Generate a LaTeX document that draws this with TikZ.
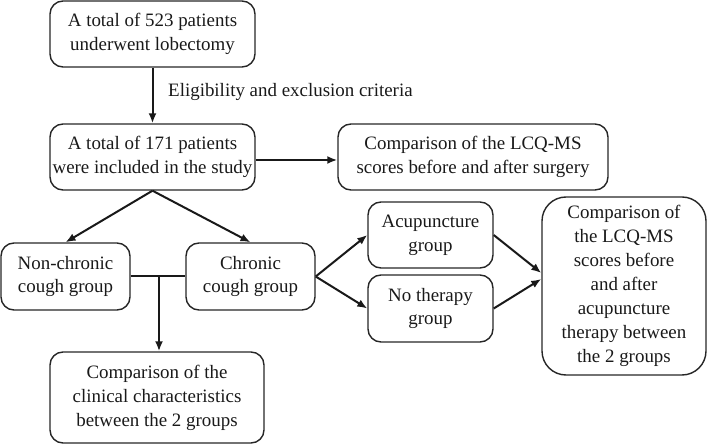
\documentclass[tikz,border=0pt]{standalone}
\usepackage{fontspec}
\setmainfont{Liberation Serif}
\usetikzlibrary{arrows.meta,calc}
\begin{document}
\begin{tikzpicture}[x=1bp,y=-1bp,
  box/.style={draw=black!85,line width=1.4bp,rounded corners=13bp,align=center,
    font=\fontsize{19}{24}\selectfont,inner sep=0pt,text=black!90},
  conn/.style={draw=black!90,line width=2bp},
  arr/.style={conn,-{Latex[length=10bp,width=8bp]}}]
\useasboundingbox (0,0) rectangle (709,444);
\node[box,minimum width=205bp,minimum height=66bp] (b1) at (152.5,34) {A total of 523 patients\\underwent lobectomy};
\node[box,minimum width=205bp,minimum height=66bp] (b2) at (152.5,157) {A total of 171 patients\\were included in the study};
\node[box,minimum width=270bp,minimum height=66bp] (b3) at (473,157) {Comparison of the LCQ-MS\\scores before and after surgery};
\node[box,minimum width=129bp,minimum height=67bp] (nc) at (65.5,276.5) {Non-chronic\\cough group};
\node[box,minimum width=129bp,minimum height=67bp] (ch) at (250.5,276.5) {Chronic\\cough group};
\node[box,minimum width=214bp,minimum height=91bp] (bot) at (157,397.5) {Comparison of the\\clinical characteristics\\between the 2 groups};
\node[box,minimum width=125bp,minimum height=66bp] (ac) at (430.5,235) {Acupuncture\\group};
\node[box,minimum width=125bp,minimum height=67bp] (nt) at (430.5,308.5) {No therapy\\group};
\node[box,rounded corners=24bp,minimum width=164bp,minimum height=178bp] (big) at (624,286) {Comparison of\\the LCQ-MS\\scores before\\and after\\acupuncture\\therapy between\\the 2 groups};
\node[anchor=west,inner sep=0pt,font=\fontsize{19}{24}\selectfont,text=black!90] (lbl) at (168,92) {Eligibility and exclusion criteria};
\draw[arr] (b1.south) -- (b2.north);
\draw[arr] ([yshift=-3bp]b2.east) -- ([yshift=-3bp]b3.west);
\draw[arr] (b2.south) -- (nc.north);
\draw[arr] (b2.south) -- (ch.north);
\draw[conn] (nc.east) -- (ch.west);
\coordinate (j) at (159,276.5);
\draw[arr] (j) -- (j |- bot.north);
\draw[arr] (ch.east) -- (ac.west);
\draw[arr] (ch.east) -- (nt.west);
\coordinate (t1) at ($(big.west)+(0,-13)$);
\coordinate (t2) at ($(big.west)+(0,-7)$);
\draw[arr] (ac.east) -- (t1);
\draw[arr] (nt.east) -- (t2);
\end{tikzpicture}
\end{document}
